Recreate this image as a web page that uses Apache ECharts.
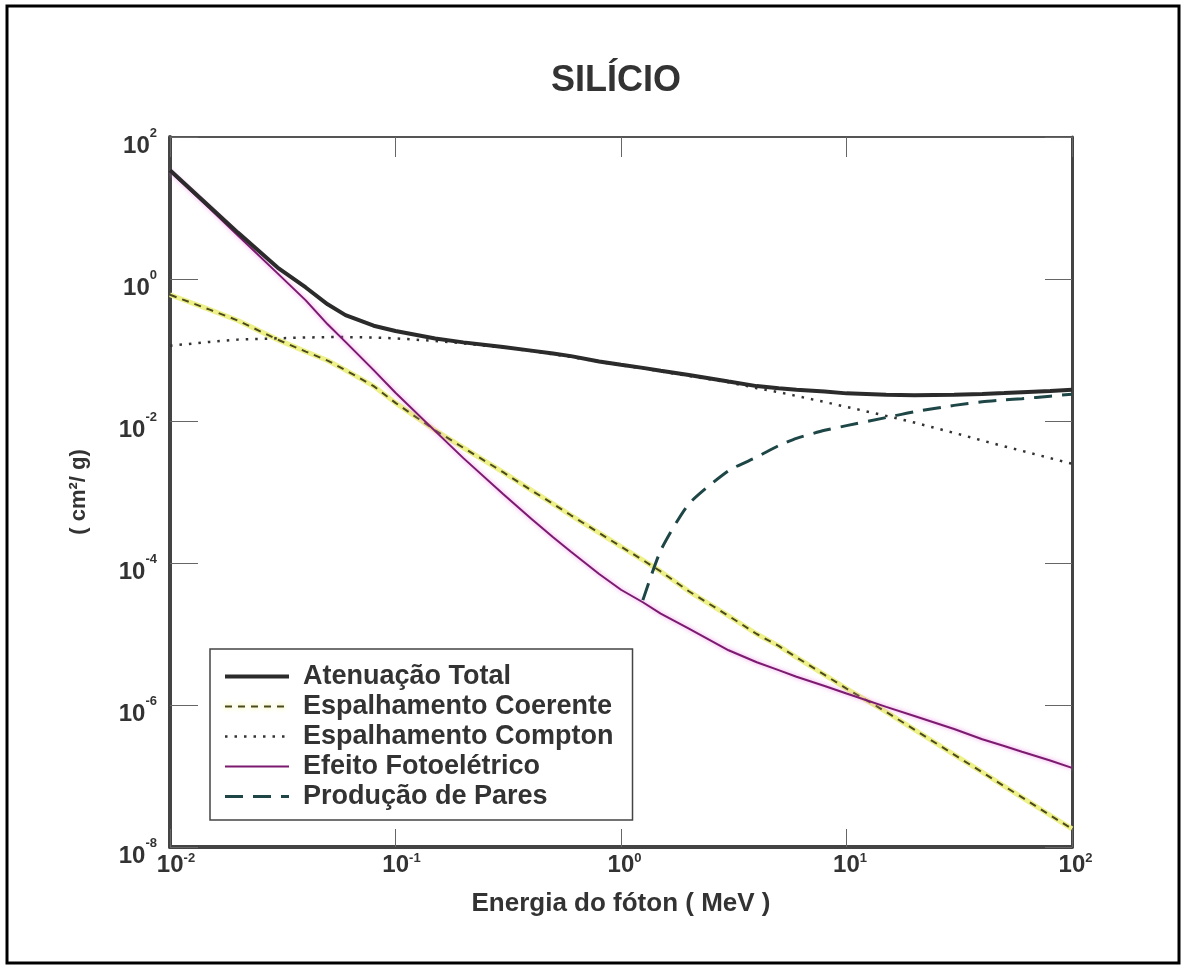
<!DOCTYPE html>
<html>
<head>
<meta charset="utf-8">
<title>Silício</title>
<script src="https://cdn.jsdelivr.net/npm/echarts@6/dist/echarts.min.js"></script>
<style>
html, body { margin: 0; padding: 0; background: #fff; }
#main { width: 1181px; height: 970px; }
</style>
</head>
<body>
<div id="main"></div>
<script>
// energias do fóton (MeV)
var energias = [0.01, 0.015, 0.02, 0.03, 0.04, 0.05, 0.06, 0.08, 0.1,
    0.15, 0.2, 0.3, 0.4, 0.5, 0.6, 0.8, 1,
    1.25, 1.5, 2, 3, 4, 5, 6, 8, 10,
    15, 20, 30, 40, 50, 60, 80, 100];

// coeficientes (cm2/g)
var atenuacaoTotal = [34, 10.4, 4.5, 1.45, 0.76, 0.44, 0.31, 0.22, 0.185,
    0.145, 0.128, 0.11, 0.098, 0.089, 0.082, 0.069, 0.062,
    0.056, 0.051, 0.0445, 0.036, 0.031, 0.029, 0.0275, 0.026, 0.0245,
    0.0235, 0.023, 0.0235, 0.024, 0.0248, 0.0255, 0.0265, 0.0275];

var espCoerente = [0.6, 0.37, 0.26, 0.14, 0.095, 0.071, 0.052, 0.031, 0.018,
    0.0074, 0.0042, 0.0019, 1.06e-3, 6.8e-4, 4.7e-4, 2.65e-4, 1.7e-4,
    1.1e-4, 7.6e-5, 4.0e-5, 1.8e-5, 1.0e-5, 6.8e-6, 4.7e-6, 2.65e-6, 1.7e-6,
    8.0e-7, 4.5e-7, 2.0e-7, 1.13e-7, 7.2e-8, 5.0e-8, 2.8e-8, 1.8e-8];

var espCompton = [0.115, 0.13, 0.14, 0.146, 0.15, 0.152, 0.152, 0.15, 0.146,
    0.134, 0.124, 0.108, 0.097, 0.087, 0.08, 0.068, 0.061,
    0.055, 0.05, 0.043, 0.035, 0.029, 0.0255, 0.0225, 0.0185, 0.0158,
    0.0118, 0.0095, 0.0068, 0.0053, 0.0044, 0.0038, 0.003, 0.0025];

var fotoeletrico = [33, 9.8, 4.1, 1.2, 0.5, 0.23, 0.13, 0.052, 0.025,
    0.0072, 0.003, 9.4e-4, 4.2e-4, 2.3e-4, 1.44e-4, 7.0e-5, 4.2e-5,
    2.8e-5, 1.94e-5, 1.19e-5, 5.9e-6, 4.0e-6, 3.1e-6, 2.5e-6, 1.85e-6, 1.45e-6,
    9.4e-7, 7.0e-7, 4.6e-7, 3.3e-7, 2.65e-7, 2.2e-7, 1.65e-7, 1.3e-7];

var producaoPares = [null, null, null, null, null, null, null, null, null,
    null, null, null, null, null, null, null, null,
    3.0e-5, 1.5e-4, 6.8e-4, 2.0e-3, 3.1e-3, 4.5e-3, 5.7e-3, 7.4e-3, 8.6e-3,
    0.0112, 0.0135, 0.0166, 0.0186, 0.0198, 0.0206, 0.0224, 0.0238];

var nomes = ['Atenuação Total', 'Espalhamento Coerente', 'Espalhamento Compton',
    'Efeito Fotoelétrico', 'Produção de Pares'];

var fonte = '"Liberation Sans", Arial, sans-serif';

function pares(valores) {
    var out = [];
    for (var i = 0; i < energias.length; i++) {
        if (valores[i] != null) out.push([energias[i], valores[i]]);
    }
    return out;
}

function expoente(v) {
    return Math.round(Math.log(v) / Math.LN10);
}

var dom = document.getElementById('main');
var myChart = echarts.init(dom, null, {renderer: 'canvas'});

var richX = {
    bn: {fontSize: 24, fontWeight: 'bold', color: '#333', fontFamily: fonte, lineHeight: 24, padding: [0, 0, 0, 12]},
    bp: {fontSize: 24, fontWeight: 'bold', color: '#333', fontFamily: fonte, lineHeight: 24, padding: [0, 0, 0, 7]},
    e: {fontSize: 13, fontWeight: 'bold', color: '#333', fontFamily: fonte, lineHeight: 13, padding: [0, 0, 14, 0]}
};
var richY = {
    b: {fontSize: 24, fontWeight: 'bold', color: '#333', fontFamily: fonte, lineHeight: 24, padding: [18, 0, 0, 0]},
    e: {fontSize: 13, fontWeight: 'bold', color: '#333', fontFamily: fonte, lineHeight: 13, padding: [0, 0, 8, 0]}
};

myChart.setOption({
    animation: false,
    backgroundColor: '#fff',
    title: {
        text: 'SILÍCIO',
        left: 546,
        top: 58,
        textStyle: {fontSize: 36, fontWeight: 'bold', color: '#333', fontFamily: fonte}
    },
    graphic: [{
        type: 'rect',
        shape: {x: 7, y: 6, width: 1172, height: 957},
        style: {fill: 'none', stroke: '#000', lineWidth: 3},
        silent: true,
        z: -1
    }],
    grid: {left: 170, right: 109, top: 137, bottom: 123, containLabel: false},
    legend: {
        data: [
            {name: nomes[0], lineStyle: {width: 4}},
            {name: nomes[1], lineStyle: {width: 2, shadowColor: '#e6e860', shadowBlur: 5}},
            {name: nomes[2], lineStyle: {width: 2.5}},
            {name: nomes[3], lineStyle: {width: 2}},
            {name: nomes[4], lineStyle: {width: 3}}
        ],
        orient: 'vertical',
        left: 210,
        top: 649,
        backgroundColor: '#fff',
        borderColor: '#444',
        borderWidth: 1.5,
        borderRadius: 0,
        padding: [14, 19, 10, 13],
        itemWidth: 64,
        itemHeight: 14,
        itemGap: 3,
        selectedMode: false,
        itemStyle: {opacity: 0},
        textStyle: {fontSize: 27, fontWeight: 'bold', color: '#333', fontFamily: fonte, padding: [0, 0, 0, 9]}
    },
    xAxis: [{
        type: 'log',
        logBase: 10,
        min: 0.01,
        max: 100,
        interval: 1,
        name: 'Energia do fóton ( MeV )',
        nameLocation: 'middle',
        nameGap: 44,
        nameTextStyle: {fontSize: 26, fontWeight: 'bold', color: '#333', fontFamily: fonte},
        axisLine: {lineStyle: {color: '#444', width: 4}},
        axisTick: {inside: true, length: 18, lineStyle: {color: '#666', width: 1}},
        splitLine: {show: false},
        axisLabel: {
            margin: 6,
            formatter: function (v) {
                var ex = expoente(v);
                return (ex < 0 ? '{bn|10}' : '{bp|10}') + '{e|' + ex + '}';
            },
            rich: richX
        }
    }, {
        type: 'log',
        logBase: 10,
        min: 0.01,
        max: 100,
        interval: 1,
        position: 'top',
        axisLine: {lineStyle: {color: '#555', width: 2}},
        axisTick: {inside: true, length: 20, lineStyle: {color: '#666', width: 1}},
        axisLabel: {show: false},
        splitLine: {show: false}
    }],
    yAxis: [{
        type: 'log',
        logBase: 10,
        min: 1e-8,
        max: 100,
        interval: 2,
        name: '( cm²/ g)',
        nameLocation: 'middle',
        nameRotate: 90,
        nameGap: 80,
        nameTextStyle: {fontSize: 22, fontWeight: 'bold', color: '#333', fontFamily: fonte},
        axisLine: {lineStyle: {color: '#444', width: 4}},
        axisTick: {inside: true, length: 28, lineStyle: {color: '#666', width: 1}},
        splitLine: {show: false},
        axisLabel: {
            margin: 13,
            formatter: function (v) {
                return '{b|10}{e|' + expoente(v) + '}';
            },
            rich: richY
        }
    }, {
        type: 'log',
        logBase: 10,
        min: 1e-8,
        max: 100,
        interval: 2,
        position: 'right',
        axisLine: {lineStyle: {color: '#444', width: 3}},
        axisTick: {inside: true, length: 27, lineStyle: {color: '#666', width: 1}},
        axisLabel: {show: false},
        splitLine: {show: false}
    }],
    series: [{
        name: 'fundo coerente',
        type: 'line',
        symbol: 'none',
        silent: true,
        data: pares(espCoerente),
        lineStyle: {color: '#eef08a', width: 5}
    }, {
        name: nomes[1],
        type: 'line',
        symbol: 'none',
        data: pares(espCoerente),
        itemStyle: {color: '#4a4a1e'},
        lineStyle: {color: '#4a4a1e', width: 2, type: [7, 6]}
    }, {
        name: nomes[2],
        type: 'line',
        symbol: 'none',
        data: pares(espCompton),
        itemStyle: {color: '#333'},
        lineStyle: {color: '#333', width: 2.5, type: [2.5, 7]}
    }, {
        name: nomes[3],
        type: 'line',
        symbol: 'none',
        data: pares(fotoeletrico),
        itemStyle: {color: '#7b1a6e'},
        lineStyle: {color: '#7b1a6e', width: 2, shadowColor: 'rgba(235,130,230,0.9)', shadowBlur: 4}
    }, {
        name: nomes[4],
        type: 'line',
        symbol: 'none',
        smooth: 0.2,
        data: pares(producaoPares),
        itemStyle: {color: '#1e4646'},
        lineStyle: {color: '#1e4646', width: 3, type: [18, 10]}
    }, {
        name: nomes[0],
        type: 'line',
        symbol: 'none',
        data: pares(atenuacaoTotal),
        itemStyle: {color: '#2b2b2b'},
        lineStyle: {color: '#2b2b2b', width: 4}
    }]
});

window.onresize = function () {
    myChart.resize();
};
</script>
</body>
</html>
